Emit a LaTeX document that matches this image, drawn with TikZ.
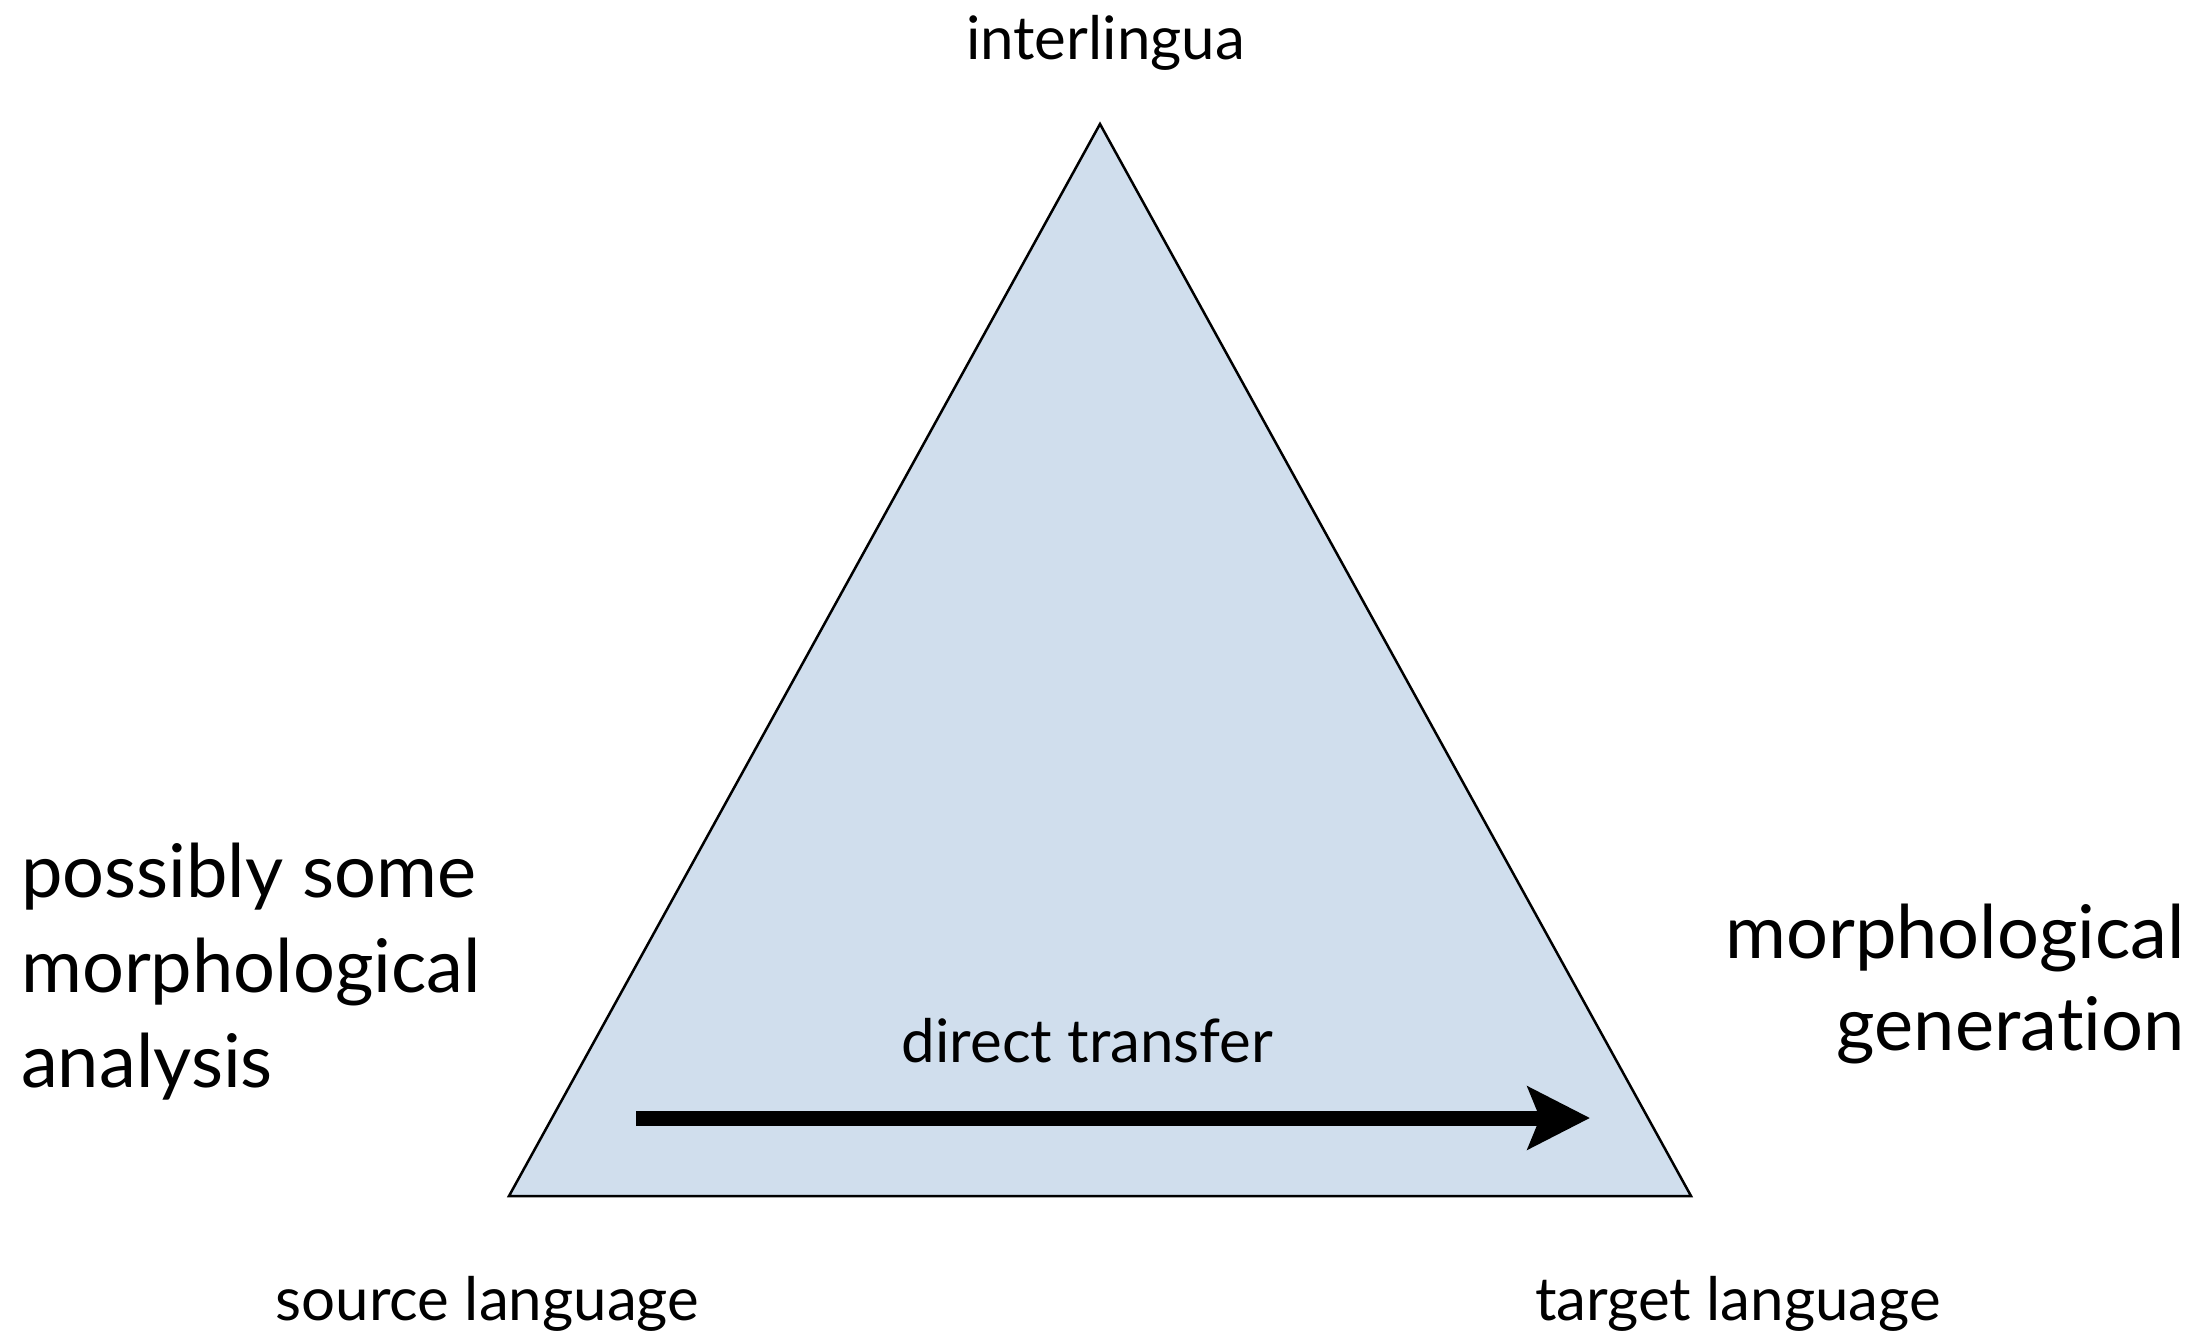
\documentclass[tikz,border=0pt]{standalone}
\usepackage{fontspec}
\setmainfont[Ligatures=NoCommon]{Lato}
\usetikzlibrary{arrows.meta}
\definecolor{trifill}{RGB}{208,222,237}
\begin{document}
\begin{tikzpicture}[x=1pt,y=-1pt,
  small/.style={font=\fontsize{60}{72}\selectfont, inner sep=0pt, anchor=base},
  big/.style={font=\fontsize{74}{95}\selectfont, inner sep=0pt},
  tri/.style={draw=black, line width=2.5pt, fill=trifill, line join=miter},
  arr/.style={line width=15pt, -{Stealth[length=62pt,width=62pt,inset=12pt]}}]
\useasboundingbox (0,0) rectangle (2211,1335);
\coordinate (top) at (1100,124);
\coordinate (bl) at (509,1196);
\coordinate (br) at (1691,1196);
\draw[tri] (top) -- (bl) -- (br) -- cycle;
\coordinate (a0) at (636,1118);
\coordinate (a1) at (1590,1118);
\draw[arr] (a0) -- (a1);
\node[small] (inter) at (1105.5,60) {interlingua};
\node[small] (direct) at (1087.5,1062) {direct transfer};
\node[small] (src) at (487.5,1320) {source language};
\node[small] (tgt) at (1738,1320) {target language};
\node[big, align=left, anchor=base west] (left) at (21,1087) {possibly some\\morphological\\analysis};
\node[big, align=right, anchor=base east, font=\fontsize{74}{92}\selectfont] (right) at (2185,1050) {morphological\\genera\kern0pt tion};
\end{tikzpicture}
\end{document}
